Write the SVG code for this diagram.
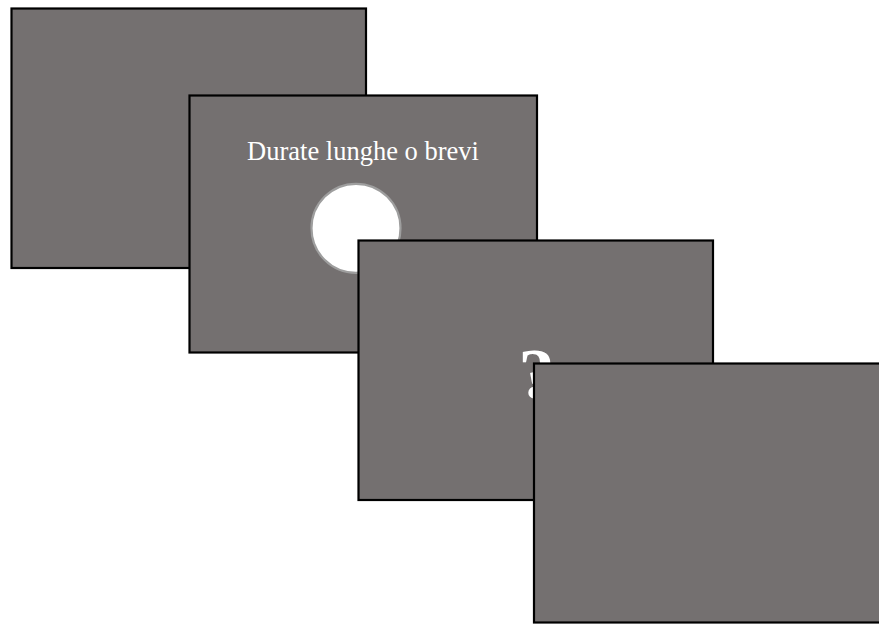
<svg xmlns="http://www.w3.org/2000/svg" width="879" height="624" viewBox="0 0 879 624">
<style>
.card{fill:#747070;stroke:#000;stroke-width:2.2}
.lbl{font-family:"Liberation Serif","Times New Roman",serif;fill:#fff}
</style>
<rect width="879" height="624" fill="#fff"/>
<g id="slide1"><rect class="card" x="11.5" y="8.5" width="354.5" height="259.5"/></g>
<g id="slide2">
<rect class="card" x="189.5" y="95.5" width="347.5" height="257"/>
<text class="lbl" x="363" y="160" font-size="26.5" text-anchor="middle">Durate lunghe o brevi</text>
<circle cx="356" cy="228.3" r="44.5" fill="#fff" stroke="#9e9e9e" stroke-width="2.2"/>
</g>
<g id="slide3">
<rect class="card" x="358.5" y="240.5" width="354.5" height="259.5"/>
<text class="lbl" x="536.5" y="398" font-size="72" font-weight="bold" text-anchor="middle">?</text>
</g>
<g id="slide4"><rect class="card" x="534" y="363.5" width="356" height="259"/></g>
<g id="connectors"></g>
</svg>
